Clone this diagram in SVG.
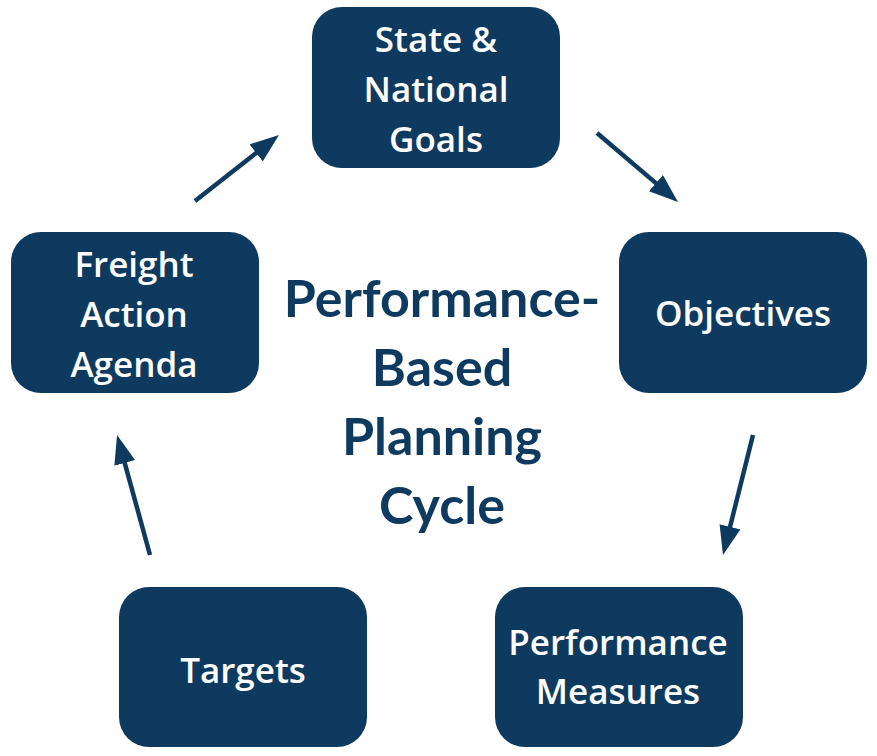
<svg xmlns="http://www.w3.org/2000/svg" width="877" height="756" viewBox="0 0 877 756">
<style>
.box{fill:#0e3a5f}
.lbl{fill:#ffffff;font-family:"Open Sans","Liberation Sans",sans-serif;font-weight:600;font-size:35px;text-anchor:middle}
.title{fill:#0e3a5f;font-family:Lato,"Liberation Sans",sans-serif;font-weight:700;font-size:52px;text-anchor:middle}
.arr{stroke:#0e3a5f;stroke-width:4.5;fill:none;marker-end:url(#ah)}
</style>
<defs>
<marker id="ah" markerUnits="userSpaceOnUse" markerWidth="30" markerHeight="22" refX="5" refY="10.75" orient="auto">
<path d="M0,0 L29,10.75 L0,21.5 z" fill="#0e3a5f"/>
</marker>
</defs>
<rect width="877" height="756" fill="#ffffff"/>
<g id="title">
<text class="title" x="442" y="317">Performance-</text>
<text class="title" x="442" y="386">Based</text>
<text class="title" x="442" y="455">Planning</text>
<text class="title" x="442" y="524">Cycle</text>
</g>
<g id="node-goals">
<rect class="box" x="312" y="7" width="248" height="161" rx="30"/>
<text class="lbl" x="436" y="52">State &amp;</text>
<text class="lbl" x="436" y="102">National</text>
<text class="lbl" x="436" y="152">Goals</text>
</g>
<g id="node-objectives">
<rect class="box" x="619" y="232" width="248" height="161" rx="30"/>
<text class="lbl" x="743" y="326">Objectives</text>
</g>
<g id="node-measures">
<rect class="box" x="495" y="587" width="248" height="160" rx="30"/>
<text class="lbl" x="618" y="655">Performance</text>
<text class="lbl" x="618" y="704">Measures</text>
</g>
<g id="node-targets">
<rect class="box" x="119" y="587" width="248" height="160" rx="30"/>
<text class="lbl" x="243" y="683">Targets</text>
</g>
<g id="node-freight">
<rect class="box" x="11" y="232" width="248" height="161" rx="30"/>
<text class="lbl" x="134" y="277">Freight</text>
<text class="lbl" x="134" y="327">Action</text>
<text class="lbl" x="134" y="377">Agenda</text>
</g>
<g id="connectors">
<line class="arr" x1="195" y1="201" x2="260.1" y2="149.8"/>
<line class="arr" x1="597" y1="133" x2="659.7" y2="186.4"/>
<line class="arr" x1="753" y1="435" x2="728.8" y2="531.7"/>
<line class="arr" x1="150" y1="555" x2="123.4" y2="458.1"/>
</g>
</svg>
